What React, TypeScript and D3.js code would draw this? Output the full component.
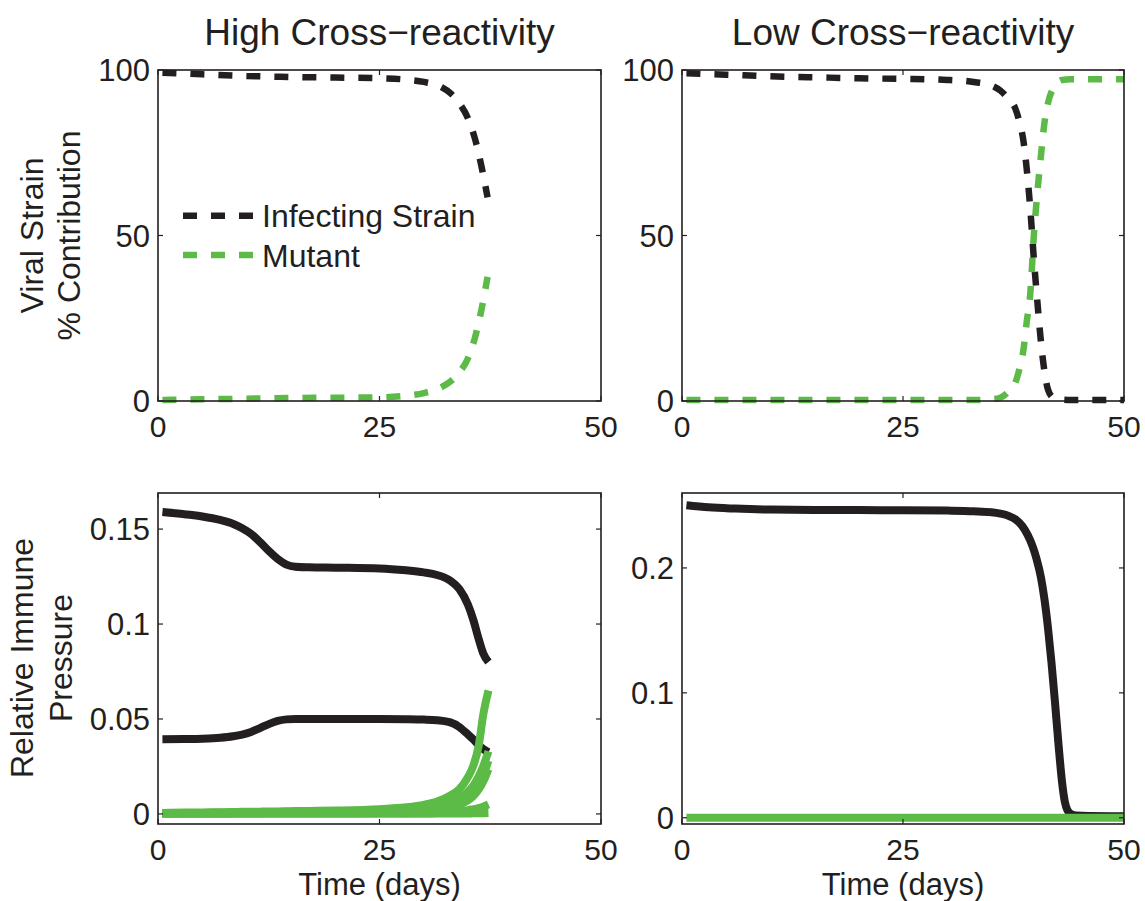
import React from "react";
import * as d3 from "d3";

// ---------- DATA ----------
const xTicks = [0, 25, 50];
const topYTicks = [0, 50, 100];
const blYTicks = [0, 0.05, 0.1, 0.15];
const blYTickLabels = ["0", "0.05", "0.1", "0.15"];
const brYTicks = [0, 0.1, 0.2];
const brYTickLabels = ["0", "0.1", "0.2"];

const panelTitles = ["High Cross\u2212reactivity", "Low Cross\u2212reactivity"];
const legendLabels = ["Infecting Strain", "Mutant"];

// Top-left: High cross-reactivity, % contribution
const tlTime = [0.5, 5, 10, 15, 20, 25, 28, 30, 32, 33, 34, 35, 35.8, 36.5, 37.2];
const tlInfecting = [99.2, 98.7, 98.2, 97.9, 97.7, 97.5, 97.1, 96.4, 94.8, 93.0, 90.0, 85.3, 79.0, 71.0, 61.5];
const tlMutant = [0.3, 0.5, 0.7, 0.9, 1.0, 1.1, 1.6, 2.4, 4.2, 5.9, 8.6, 13.0, 19.4, 27.5, 37.5];

// Top-right: Low cross-reactivity, % contribution
const trTime = [0.5, 5, 10, 15, 20, 25, 30, 33, 35, 36, 37, 37.7, 38.2, 38.6, 39, 39.4, 39.8, 40.2, 40.6, 41, 41.4, 42, 43, 44, 46, 50];
const trInfecting = [99.0, 98.6, 98.1, 97.8, 97.5, 97.3, 97.0, 96.4, 95.3, 93.8, 91.0, 88.4, 84.0, 79.0, 70.0, 58.0, 43.0, 30.0, 18.0, 9.0, 3.5, 1.0, 0.4, 0.3, 0.3, 0.3];
const trMutant = [0.3, 0.3, 0.3, 0.3, 0.3, 0.3, 0.3, 0.3, 0.5, 1.0, 3.0, 5.5, 10.0, 15.0, 24.0, 32.5, 50.0, 63.0, 74.0, 84.0, 90.0, 94.5, 97.0, 97.2, 97.2, 97.2];

// Bottom-left: High cross-reactivity, relative immune pressure
const blTime = [0.5, 3, 5, 7, 8.5, 9.5, 10.5, 11.5, 12.5, 13.5, 14.5, 15.5, 17, 20, 25, 28, 30, 31.5, 33, 34, 35, 35.6, 36.2, 36.7, 37.3];
const blBlackUpper = [0.159, 0.1578, 0.1566, 0.1548, 0.1527, 0.1505, 0.1475, 0.1432, 0.1385, 0.1343, 0.1313, 0.1302, 0.1299, 0.1297, 0.1293, 0.1283, 0.1272, 0.1258, 0.1228, 0.1185, 0.11, 0.102, 0.092, 0.0846, 0.08];
const blBlackLower = [0.0393, 0.0394, 0.0396, 0.0401, 0.0409, 0.0418, 0.0432, 0.0452, 0.0473, 0.049, 0.0498, 0.05, 0.05, 0.05, 0.05, 0.0499, 0.0497, 0.0493, 0.0482, 0.0458, 0.0418, 0.0392, 0.0362, 0.0342, 0.0325];
const blGreen1 = [0.0005, 0.0007, 0.0008, 0.0009, 0.001, 0.0011, 0.0011, 0.0012, 0.0013, 0.0013, 0.0014, 0.0015, 0.0016, 0.0018, 0.0025, 0.0035, 0.0048, 0.0065, 0.0098, 0.013, 0.0195, 0.0255, 0.036, 0.052, 0.065];
const blGreen2 = [0.0004, 0.0005, 0.0005, 0.0006, 0.0007, 0.0008, 0.0008, 0.0009, 0.001, 0.001, 0.0011, 0.0012, 0.0013, 0.0014, 0.0018, 0.0025, 0.0032, 0.0042, 0.006, 0.0082, 0.0118, 0.015, 0.0198, 0.025, 0.033];
const blGreen3 = [0.0003, 0.0004, 0.0004, 0.0005, 0.0005, 0.0006, 0.0006, 0.0006, 0.0007, 0.0007, 0.0007, 0.0008, 0.0008, 0.0009, 0.0012, 0.0017, 0.0022, 0.003, 0.0045, 0.0062, 0.009, 0.0118, 0.0158, 0.0205, 0.028];
const blGreen4 = [0.0002, 0.0003, 0.0003, 0.0003, 0.0004, 0.0004, 0.0004, 0.0004, 0.0005, 0.0005, 0.0005, 0.0005, 0.0006, 0.0006, 0.0008, 0.0012, 0.0016, 0.0022, 0.0034, 0.0048, 0.0072, 0.0095, 0.013, 0.017, 0.0235];
const blGreen5 = [0.0002, 0.0002, 0.0002, 0.0002, 0.0003, 0.0003, 0.0003, 0.0003, 0.0003, 0.0003, 0.0003, 0.0003, 0.0004, 0.0004, 0.0005, 0.0006, 0.0008, 0.0009, 0.0012, 0.0015, 0.002, 0.0025, 0.003, 0.0038, 0.005];
const blGreen6 = [0.0001, 0.0001, 0.0001, 0.0001, 0.0001, 0.0001, 0.0001, 0.0001, 0.0001, 0.0001, 0.0001, 0.0001, 0.0001, 0.0001, 0.0001, 0.0001, 0.0001, 0.0002, 0.0002, 0.0002, 0.0002, 0.0003, 0.0003, 0.0004, 0.0005];

// Bottom-right: Low cross-reactivity, relative immune pressure
const brTime = [0.5, 3, 6, 10, 15, 20, 25, 30, 33, 35, 36, 37, 37.8, 38.5, 39.1, 39.6, 40.1, 40.6, 41.0, 41.4, 41.8, 42.2, 42.6, 43.0, 43.3, 43.6, 44.0, 44.6, 46, 50];
const brBlack = [0.2502, 0.2485, 0.2475, 0.2467, 0.2464, 0.2463, 0.2462, 0.2459, 0.2454, 0.2446, 0.2435, 0.2415, 0.2385, 0.2335, 0.2265, 0.2185, 0.2075, 0.1925, 0.175, 0.152, 0.124, 0.092, 0.058, 0.028, 0.013, 0.006, 0.003, 0.0018, 0.0014, 0.0012];
const brGreenTime = [0.5, 50];
const brGreen = [0, 0];

// ---------- STYLE ----------
const BLACK = "#231f20";
const GREEN = "#5cba47";
const FONT = "'Liberation Sans', Arial, Helvetica, sans-serif";

type Series = { t: number[]; v: number[]; color: string; dashed: boolean };

type PanelProps = {
  x0: number; x1: number; y0: number; y1: number;
  yDomain: [number, number];
  yTicks: number[]; yTickLabels: string[];
  series: Series[];
  showXLabel?: boolean;
};

function Panel({ x0, x1, y0, y1, yDomain, yTicks, yTickLabels, series, showXLabel }: PanelProps) {
  const xs = d3.scaleLinear().domain([0, 50]).range([x0, x1]);
  const ys = d3.scaleLinear().domain(yDomain).range([y1, y0]);
  const tl = 5;
  return (
    <g>
      {series.map((s, i) => {
        const pts = s.t.map((t, j) => [t, s.v[j]] as [number, number]);
        const line = d3.line<[number, number]>()
          .x((d) => xs(d[0]))
          .y((d) => ys(d[1]))
          .curve(d3.curveMonotoneX);
        return (
          <path key={i} d={line(pts) || ""} fill="none" stroke={s.color}
            strokeWidth={s.dashed ? 6.5 : 8}
            strokeDasharray={s.dashed ? "14,14" : undefined}
            strokeLinecap="butt" strokeLinejoin="round" />
        );
      })}
      <rect x={x0} y={y0} width={x1 - x0} height={y1 - y0} fill="none" stroke={BLACK} strokeWidth={1.6} />
      {xTicks.map((t) => (
        <g key={"xt" + t}>
          <line x1={xs(t)} x2={xs(t)} y1={y1} y2={y1 - tl} stroke={BLACK} strokeWidth={1.2} />
          <line x1={xs(t)} x2={xs(t)} y1={y0} y2={y0 + tl} stroke={BLACK} strokeWidth={1.2} />
          <text x={xs(t)} y={y1 + 35.5} textAnchor="middle" fontSize={30} fill={BLACK} fontFamily={FONT}>{t}</text>
        </g>
      ))}
      {yTicks.map((v, i) => (
        <g key={"yt" + v}>
          <line x1={x0} x2={x0 + tl} y1={ys(v)} y2={ys(v)} stroke={BLACK} strokeWidth={1.2} />
          <line x1={x1} x2={x1 - tl} y1={ys(v)} y2={ys(v)} stroke={BLACK} strokeWidth={1.2} />
          <text x={x0 - 8} y={ys(v) + 11} textAnchor="end" fontSize={31} fill={BLACK} fontFamily={FONT}>{yTickLabels[i]}</text>
        </g>
      ))}
      {showXLabel && (
        <text x={(x0 + x1) / 2} y={894.5} textAnchor="middle" fontSize={31} fill={BLACK} fontFamily={FONT}>Time (days)</text>
      )}
    </g>
  );
}

export default function App() {
  const L0 = 158, L1 = 601, R0 = 682, R1 = 1124;
  const T0 = 70, T1 = 401, B0 = 493, B1 = 824;
  return (
    <svg width={1145} height={901} style={{ position: "absolute", left: 0, top: 0, display: "block", background: "#fff" }}>
      <rect x={0} y={0} width={1145} height={901} fill="#fff" />
      <text x={(L0 + L1) / 2} y={45} textAnchor="middle" fontSize={37} fill={BLACK} fontFamily={FONT}>{panelTitles[0]}</text>
      <text x={(R0 + R1) / 2} y={45} textAnchor="middle" fontSize={37} fill={BLACK} fontFamily={FONT}>{panelTitles[1]}</text>

      <Panel x0={L0} x1={L1} y0={T0} y1={T1} yDomain={[0, 100]} yTicks={topYTicks} yTickLabels={topYTicks.map(String)}
        series={[
          { t: tlTime, v: tlInfecting, color: BLACK, dashed: true },
          { t: tlTime, v: tlMutant, color: GREEN, dashed: true },
        ]} />
      <Panel x0={R0} x1={R1} y0={T0} y1={T1} yDomain={[0, 100]} yTicks={topYTicks} yTickLabels={topYTicks.map(String)}
        series={[
          { t: trTime, v: trInfecting, color: BLACK, dashed: true },
          { t: trTime, v: trMutant, color: GREEN, dashed: true },
        ]} />
      <Panel x0={L0} x1={L1} y0={B0} y1={B1} yDomain={[-0.0053, 0.169]} yTicks={blYTicks} yTickLabels={blYTickLabels} showXLabel
        series={[
          { t: blTime, v: blGreen6, color: GREEN, dashed: false },
          { t: blTime, v: blGreen5, color: GREEN, dashed: false },
          { t: blTime, v: blGreen4, color: GREEN, dashed: false },
          { t: blTime, v: blGreen3, color: GREEN, dashed: false },
          { t: blTime, v: blBlackUpper, color: BLACK, dashed: false },
          { t: blTime, v: blBlackLower, color: BLACK, dashed: false },
          { t: blTime, v: blGreen2, color: GREEN, dashed: false },
          { t: blTime, v: blGreen1, color: GREEN, dashed: false },
        ]} />
      <Panel x0={R0} x1={R1} y0={B0} y1={B1} yDomain={[-0.005, 0.26]} yTicks={brYTicks} yTickLabels={brYTickLabels} showXLabel
        series={[
          { t: brTime, v: brBlack, color: BLACK, dashed: false },
          { t: brGreenTime, v: brGreen, color: GREEN, dashed: false },
        ]} />

      {/* Legend */}
      <line x1={183} x2={255} y1={215.7} y2={215.7} stroke={BLACK} strokeWidth={6.5} strokeDasharray="14,14" />
      <text x={262} y={226.7} fontSize={32} fill={BLACK} fontFamily={FONT}>{legendLabels[0]}</text>
      <line x1={183} x2={255} y1={255} y2={255} stroke={GREEN} strokeWidth={6.5} strokeDasharray="14,14" />
      <text x={262} y={266.7} fontSize={32} fill={BLACK} fontFamily={FONT}>{legendLabels[1]}</text>

      {/* Y labels */}
      <g transform="translate(43,235.5) rotate(-90)">
        <text x={0} y={0} textAnchor="middle" fontSize={32} fill={BLACK} fontFamily={FONT}>Viral Strain</text>
        <text x={0} y={37} textAnchor="middle" fontSize={32} fill={BLACK} fontFamily={FONT}>% Contribution</text>
      </g>
      <g transform="translate(33,658) rotate(-90)">
        <text x={0} y={0} textAnchor="middle" fontSize={32} fill={BLACK} fontFamily={FONT}>Relative Immune</text>
        <text x={0} y={39} textAnchor="middle" fontSize={32} fill={BLACK} fontFamily={FONT}>Pressure</text>
      </g>
    </svg>
  );
}
